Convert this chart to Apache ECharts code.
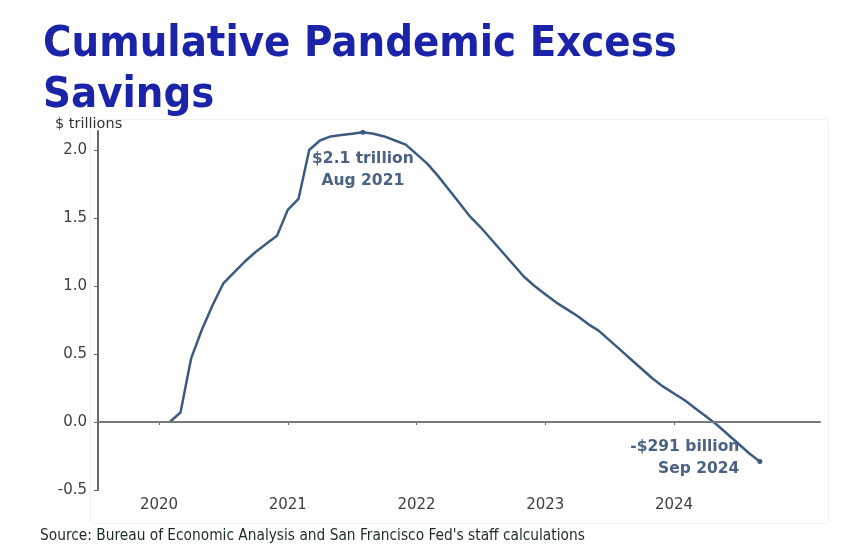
<!DOCTYPE html>
<html>
<head>
<meta charset="utf-8">
<title>Cumulative Pandemic Excess Savings</title>
<script src="https://cdn.jsdelivr.net/npm/echarts@6/dist/echarts.min.js"></script>
<style>
  html, body { margin: 0; padding: 0; background: #fff; }
  #chart { width: 865px; height: 557px; }
</style>
</head>
<body>
<div id="chart"></div>
<script>
// monthly, Feb 2020 .. Sep 2024 ($ trillions)
var startYear = 2020, startMonth = 2;
var savings = [
  0.00, 0.07, 0.47, 0.68, 0.86, 1.02, 1.10, 1.18, 1.25, 1.31, 1.37,
  1.56, 1.64, 2.00, 2.07, 2.10, 2.11, 2.12, 2.13, 2.12, 2.10, 2.07, 2.04,
  1.97, 1.90, 1.81, 1.71, 1.61, 1.51, 1.43, 1.34, 1.25, 1.16, 1.07, 1.00,
  0.94, 0.88, 0.83, 0.78, 0.72, 0.67, 0.60, 0.53, 0.46, 0.39, 0.32, 0.26,
  0.21, 0.16, 0.10, 0.04, -0.02, -0.09, -0.16, -0.23, -0.29
];
var yearTicks = [2020, 2021, 2022, 2023, 2024];
var valueTicks = [-0.5, 0, 0.5, 1.0, 1.5, 2.0];
var peakIndex = 18;   // Aug 2021
var peakText = '$2.1 trillion\nAug 2021';
var endText = '-$291 billion\nSep 2024';

var lineColor = '#3d5a80';
var noteColor = '#4a6283';

var points = savings.map(function (v, i) {
  var m = startMonth - 1 + i;
  var t = startYear + m / 12;
  var item = { value: [t, v] };
  if (i === peakIndex) {
    item.symbol = 'circle';
    item.symbolSize = 5;
    item.label = { show: true, position: 'bottom', distance: 13, formatter: peakText };
  } else if (i === savings.length - 1) {
    item.symbol = 'circle';
    item.symbolSize = 5;
    item.label = { show: true, position: 'left', distance: 18, offset: [0, -3], align: 'right', formatter: endText };
  }
  return item;
});

var chart = echarts.init(document.getElementById('chart'));
chart.setOption({
  animation: false,
  title: {
    text: 'Cumulative Pandemic Excess\nSavings',
    left: 38,
    top: 14,
    textStyle: {
      fontFamily: 'DejaVu Sans Condensed',
      fontWeight: 'bold',
      fontSize: 43.2,
      lineHeight: 51,
      color: '#1b24a8'
    }
  },
  graphic: [
    {
      type: 'rect',
      left: 88, top: 117,
      shape: { width: 738, height: 404, r: 3 },
      style: { fill: 'none', stroke: '#f0f0f0', lineWidth: 1 },
      silent: true, z: -1
    },
    {
      type: 'text',
      left: 55, top: 117,
      style: { text: '$ trillions', fontFamily: 'DejaVu Sans', fontSize: 14.5, fill: '#333' }
    },
    {
      type: 'text',
      left: 40, top: 529,
      style: {
        text: "Source: Bureau of Economic Analysis and San Francisco Fed's staff calculations",
        fontFamily: 'DejaVu Sans Condensed', fontSize: 15.3, fill: '#1c2b22'
      }
    }
  ],
  grid: { left: 98, right: 45, top: 131, bottom: 67 },
  xAxis: {
    type: 'value',
    min: 2019.526,
    max: 2025.134,
    splitLine: { show: false },
    axisLine: { lineStyle: { color: '#666', width: 2 } },
    axisTick: { show: true, length: 3, customValues: yearTicks, lineStyle: { color: '#666' } },
    axisLabel: {
      customValues: yearTicks,
      color: '#404040', fontFamily: 'DejaVu Sans', fontSize: 15, margin: 8,
      formatter: function (v) { return String(Math.round(v)); }
    }
  },
  yAxis: {
    type: 'value',
    min: -0.5,
    max: 2.14,
    splitLine: { show: false },
    axisLine: { show: true, onZero: false, lineStyle: { color: '#666', width: 2 } },
    axisTick: { show: true, length: 4, customValues: valueTicks, lineStyle: { color: '#666' } },
    axisLabel: {
      customValues: valueTicks,
      color: '#404040', fontFamily: 'DejaVu Sans', fontSize: 15, margin: 11,
      formatter: function (v) { return v.toFixed(1); }
    }
  },
  series: [{
    type: 'line',
    data: points,
    clip: false,
    symbol: 'none',
    lineStyle: { color: lineColor, width: 2.5 },
    itemStyle: { color: lineColor },
    label: {
      color: noteColor,
      fontFamily: 'DejaVu Sans',
      fontWeight: 'bold',
      fontSize: 15.5,
      lineHeight: 22
    },
    markLine: {
      silent: true,
      symbol: 'none',
      label: { show: false },
      lineStyle: { color: '#808080', width: 1.5, type: 'solid' },
      data: [{ yAxis: 0 }]
    },
    z: 3
  }]
});
</script>
</body>
</html>
